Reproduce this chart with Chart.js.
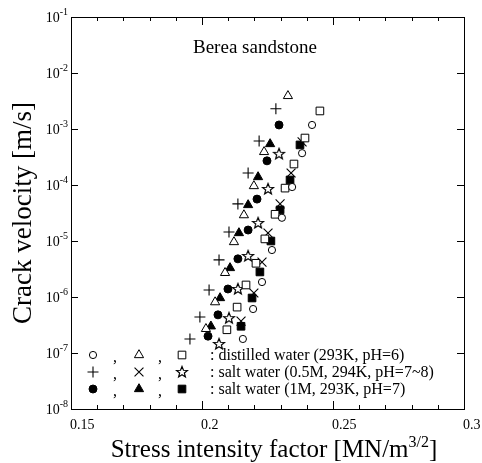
<!DOCTYPE html>
<html><head><meta charset="utf-8">
<script src="https://cdn.jsdelivr.net/npm/chart.js@4.4.0/dist/chart.umd.min.js"></script>
<style>html,body{margin:0;padding:0;background:#fff;}canvas{display:block;}</style>
</head><body>
<canvas id="c" width="482" height="463"></canvas>
<script>
// ---- axis ticks ----
const xTickValues = [0.15, 0.2, 0.25, 0.3];
const xTickLabels = ['0.15', '0.2', '0.25', '0.3'];
const xMinorStep = 0.01;
const yTickExponents = [-8, -7, -6, -5, -4, -3, -2, -1];

// ---- distilled water (293K, pH=6) ----
const distilledCircle = [[0.2420,1.18e-3],[0.2382,3.7e-4],[0.2344,9.2e-5],[0.2305,2.6e-5],[0.2267,6.9e-6],[0.2229,1.85e-6],[0.2195,6.1e-7],[0.2156,1.78e-7]];
const distilledTriangle = [[0.2328,3.9e-3],[0.2237,3.9e-4],[0.2198,9.6e-5],[0.2160,2.9e-5],[0.2122,9.6e-6],[0.2088,2.7e-6],[0.2050,8.1e-7],[0.2015,2.7e-7]];
const distilledSquare = [[0.2450,2.1e-3],[0.2393,6.9e-4],[0.2351,2.37e-4],[0.2317,8.8e-5],[0.2279,3.0e-5],[0.2240,1.09e-5],[0.2206,4.0e-6],[0.2168,1.64e-6],[0.2134,6.6e-7],[0.2095,2.6e-7]];

// ---- salt water (0.5M, 294K, pH=7~8) ----
const salt05Plus = [[0.2282,2.3e-3],[0.2218,6.1e-4],[0.2176,1.64e-4],[0.2137,4.6e-5],[0.2103,1.45e-5],[0.2065,4.6e-6],[0.2027,1.33e-6],[0.1992,4.4e-7],[0.1954,1.78e-7]];
const salt05Cross = [[0.2382,5.9e-4],[0.2340,1.64e-4],[0.2298,4.6e-5],[0.2252,1.39e-5],[0.2229,4.2e-6],[0.2198,1.18e-6],[0.2149,3.7e-7]];
const salt05Star = [[0.2294,3.6e-4],[0.2252,8.5e-5],[0.2214,2.1e-5],[0.2176,5.4e-6],[0.2137,1.39e-6],[0.2103,4.2e-7],[0.2065,1.45e-7]];

// ---- salt water (1M, 293K, pH=7) ----
const salt1Circle = [[0.2294,1.18e-3],[0.2248,2.7e-4],[0.2210,5.6e-5],[0.2176,1.57e-5],[0.2137,4.8e-6],[0.2099,1.39e-6],[0.2061,4.8e-7],[0.2023,2.0e-7]];
const salt1Triangle = [[0.2260,5.4e-4],[0.2214,1.39e-4],[0.2176,4.4e-5],[0.2141,1.39e-5],[0.2107,3.3e-6],[0.2069,9.6e-7],[0.2034,3.0e-7]];
const salt1Square = [[0.2374,5.2e-4],[0.2336,1.23e-4],[0.2298,3.6e-5],[0.2263,1.0e-5],[0.2221,2.8e-6],[0.2191,9.6e-7],[0.2149,3.0e-7]];

const legendTexts = [': distilled water (293K, pH=6)', ': salt water (0.5M, 294K, pH=7~8)', ': salt water (1M, 293K, pH=7)'];
const annotationText = 'Berea sandstone';
const xTitle = 'Stress intensity factor [MN/m';
const xTitleSup = '3/2';
const yTitle = 'Crack velocity [m/s]';

const FONT = "'Liberation Serif','Times New Roman',Times,serif";

// star (5-point outline) point style
function makeStar() {
  const c = document.createElement('canvas');
  c.width = 14; c.height = 14;
  const g = c.getContext('2d');
  const cx = 7, cy = 7.3, ro = 5.8, ri = 2.5;
  g.beginPath();
  for (let i = 0; i < 10; i++) {
    const r = i % 2 ? ri : ro;
    const a = -Math.PI / 2 + i * Math.PI / 5;
    const px = cx + r * Math.cos(a), py = cy + r * Math.sin(a);
    if (i === 0) g.moveTo(px, py); else g.lineTo(px, py);
  }
  g.closePath();
  g.fillStyle = '#fff'; g.fill();
  g.strokeStyle = '#000'; g.lineWidth = 1.2; g.stroke();
  return c;
}
const starImg = makeStar();

function toPts(arr) { return arr.map(p => ({x: p[0], y: p[1]})); }

const styles = {
  oCircle: {pointStyle: 'circle', pointRadius: 3.6, pointBackgroundColor: '#fff', pointBorderColor: '#000', pointBorderWidth: 1},
  oTri: {pointStyle: 'triangle', pointRadius: 5.3, pointBackgroundColor: '#fff', pointBorderColor: '#000', pointBorderWidth: 1},
  oRect: {pointStyle: 'rect', pointRadius: 5.4, pointBackgroundColor: '#fff', pointBorderColor: '#000', pointBorderWidth: 1},
  plus: {pointStyle: 'cross', pointRadius: 5.5, pointBackgroundColor: '#000', pointBorderColor: '#000', pointBorderWidth: 1.1},
  xcross: {pointStyle: 'crossRot', pointRadius: 6.3, pointBackgroundColor: '#000', pointBorderColor: '#000', pointBorderWidth: 1.1},
  star: {pointStyle: starImg, pointRadius: 6, pointBackgroundColor: '#fff', pointBorderColor: '#000', pointBorderWidth: 1},
  fCircle: {pointStyle: 'circle', pointRadius: 4, pointBackgroundColor: '#000', pointBorderColor: '#000', pointBorderWidth: 1},
  fTri: {pointStyle: 'triangle', pointRadius: 5.3, pointBackgroundColor: '#000', pointBorderColor: '#000', pointBorderWidth: 1},
  fRect: {pointStyle: 'rect', pointRadius: 5.4, pointBackgroundColor: '#000', pointBorderColor: '#000', pointBorderWidth: 1}
};

function ds(label, arr, st) {
  return Object.assign({label, data: toPts(arr), showLine: false, pointHoverRadius: st.pointRadius}, st);
}

const datasets = [
  ds('distilled ○', distilledCircle, styles.oCircle),
  ds('distilled △', distilledTriangle, styles.oTri),
  ds('distilled □', distilledSquare, styles.oRect),
  ds('salt 0.5M +', salt05Plus, styles.plus),
  ds('salt 0.5M ×', salt05Cross, styles.xcross),
  ds('salt 0.5M ☆', salt05Star, styles.star),
  ds('salt 1M ●', salt1Circle, styles.fCircle),
  ds('salt 1M ▲', salt1Triangle, styles.fTri),
  ds('salt 1M ■', salt1Square, styles.fRect)
];

const legendRows = [
  [styles.oCircle, styles.oTri, styles.oRect],
  [styles.plus, styles.xcross, styles.star],
  [styles.fCircle, styles.fTri, styles.fRect]
];

function drawSymbol(ctx, st, x, y) {
  ctx.save();
  ctx.fillStyle = st.pointBackgroundColor;
  ctx.strokeStyle = st.pointBorderColor;
  ctx.lineWidth = st.pointBorderWidth;
  Chart.helpers.drawPoint(ctx, {pointStyle: st.pointStyle, radius: st.pointRadius, rotation: 0, borderWidth: st.pointBorderWidth}, x, y);
  ctx.restore();
}

const framePlugin = {
  id: 'frame',
  afterDraw(chart) {
    const ctx = chart.ctx;
    const ca = chart.chartArea;
    const xs = chart.scales.x, ys = chart.scales.y;
    ctx.save();
    ctx.strokeStyle = '#000';
    ctx.fillStyle = '#000';
    ctx.lineWidth = 1;
    // box
    ctx.strokeRect(Math.round(ca.left) + 0.5, Math.round(ca.top) + 0.5, Math.round(ca.right - ca.left), Math.round(ca.bottom - ca.top));
    // x ticks
    ctx.beginPath();
    const nMinor = Math.round((xs.max - xs.min) / xMinorStep);
    for (let i = 0; i <= nMinor; i++) {
      const v = xs.min + i * xMinorStep;
      const major = xTickValues.some(t => Math.abs(t - v) < 1e-9);
      const len = major ? 8 : 4;
      const px = Math.round(xs.getPixelForValue(v)) + 0.5;
      ctx.moveTo(px, ca.bottom); ctx.lineTo(px, ca.bottom - len);
      ctx.moveTo(px, ca.top); ctx.lineTo(px, ca.top + len);
    }
    // y ticks
    yTickExponents.forEach(e => {
      const py = Math.round(ys.getPixelForValue(Math.pow(10, e))) + 0.5;
      ctx.moveTo(ca.left, py); ctx.lineTo(ca.left + 7, py);
      ctx.moveTo(ca.right, py); ctx.lineTo(ca.right - 7, py);
    });
    ctx.stroke();
    // x tick labels
    ctx.font = '14px ' + FONT;
    ctx.textAlign = 'left';
    ctx.textBaseline = 'alphabetic';
    xTickValues.forEach((v, i) => {
      const px = xs.getPixelForValue(v);
      ctx.fillText(xTickLabels[i], px - 1, ca.bottom + 20);
    });
    // y tick labels
    yTickExponents.forEach(e => {
      const py = ys.getPixelForValue(Math.pow(10, e));
      ctx.font = '10px ' + FONT;
      const sup = String(e);
      const sw = ctx.measureText(sup).width;
      const supRight = ca.left - 3;
      ctx.textAlign = 'left';
      ctx.fillText(sup, supRight - sw, py - 2);
      ctx.font = '14px ' + FONT;
      ctx.textAlign = 'right';
      ctx.fillText('10', supRight - sw, py + 5);
    });
    // x title
    ctx.font = '25px ' + FONT;
    const w1 = ctx.measureText(xTitle).width;
    const w3 = ctx.measureText(']').width;
    ctx.font = '16px ' + FONT;
    const w2 = ctx.measureText(xTitleSup).width;
    const total = w1 + w2 + w3;
    let sx = 274 - total / 2;
    const by = 457;
    ctx.textAlign = 'left';
    ctx.font = '25px ' + FONT;
    ctx.fillText(xTitle, sx, by);
    ctx.font = '16px ' + FONT;
    ctx.fillText(xTitleSup, sx + w1, by - 10);
    ctx.font = '25px ' + FONT;
    ctx.fillText(']', sx + w1 + w2, by);
    // y title
    ctx.save();
    ctx.translate(31, 213);
    ctx.rotate(-Math.PI / 2);
    ctx.font = '27px ' + FONT;
    ctx.textAlign = 'center';
    ctx.fillText(yTitle, 0, 0);
    ctx.restore();
    // annotation
    ctx.font = '19px ' + FONT;
    ctx.textAlign = 'center';
    ctx.fillText(annotationText, 255, 53);
    // legend
    const rowY = [355, 372, 389];
    const colX = [93, 139, 182];
    const commaX = [115, 160];
    legendRows.forEach((row, r) => {
      row.forEach((st, c) => drawSymbol(ctx, st, colX[c], rowY[r]));
      ctx.fillStyle = '#000';
      ctx.font = '16px ' + FONT;
      ctx.textAlign = 'center';
      commaX.forEach(cx => ctx.fillText(',', cx, rowY[r] + 7));
      ctx.textAlign = 'left';
      ctx.fillText(legendTexts[r], 210, rowY[r] + 5);
    });
    ctx.restore();
  }
};

new Chart(document.getElementById('c'), {
  type: 'scatter',
  data: {datasets},
  options: {
    responsive: false,
    animation: false,
    devicePixelRatio: 1,
    layout: {padding: {top: 17, right: 18, left: 0, bottom: 0}},
    plugins: {legend: {display: false}, tooltip: {enabled: false}},
    scales: {
      x: {
        type: 'linear', min: 0.15, max: 0.3,
        ticks: {display: false}, grid: {display: false}, border: {display: false},
        afterFit(s) { s.height = 54; }
      },
      y: {
        type: 'logarithmic', min: 1e-8, max: 1e-1,
        ticks: {display: false}, grid: {display: false}, border: {display: false},
        afterFit(s) { s.width = 71; }
      }
    }
  },
  plugins: [framePlugin]
});
</script>
</body></html>
